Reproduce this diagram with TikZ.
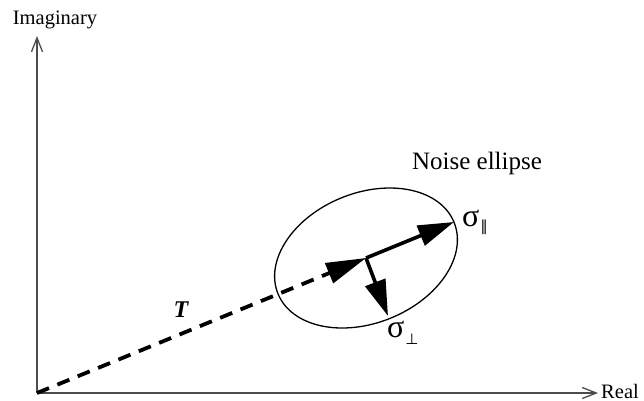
\documentclass[tikz,border=0pt]{standalone}
\usepackage{fontspec}
\setmainfont{Liberation Serif}
\newfontfamily\djv{DejaVu Sans}
\usetikzlibrary{arrows.meta,shapes.geometric}
\newcommand{\subsym}[2]{\raisebox{#1}{\fontsize{15}{15}\selectfont\djv #2}}
\begin{document}
\begin{tikzpicture}[x=1pt,y=-1pt,
  axisline/.style={draw=black!70,line width=1.5pt,-{Straight Barb[length=14pt,width=11pt,line width=1.3pt]}},
  tline/.style={line width=3.8pt,dash pattern=on 13pt off 9pt,-{Triangle[length=40pt,width=21pt]}},
  vec/.style={line width=3.6pt,-{Triangle[length=36pt,width=21pt]}},
  lbl/.style={inner sep=0pt,font=\fontsize{20.5}{25}\selectfont},
  sig/.style={inner sep=0pt,font=\fontsize{32}{34}\selectfont}]
\useasboundingbox (0,0) rectangle (644,400);
\coordinate (O) at (37,393);
\coordinate (Ytip) at (37,36);
\coordinate (Xtip) at (598,393);
\coordinate (C) at (366,258);
\coordinate (Ppar) at (454,222);
\coordinate (Pperp) at (388,316);
\node[ellipse,draw,line width=1.3pt,minimum width=190pt,minimum height=130pt,inner sep=0pt,rotate=22] (ell) at (C) {};
\draw[axisline] (O) -- (Ytip);
\draw[axisline] (O) -- (Xtip);
\draw[tline] (O) -- (C);
\draw[vec] (C) -- (Ppar);
\draw[vec] (C) -- (Pperp);
\node[lbl] (imag) at (55,20) {Imaginary};
\node[lbl,anchor=base east] (real) at (639,398) {Real};
\node[inner sep=0pt,font=\fontsize{25}{28}\selectfont] (noise) at (477,163) {Noise ellipse};
\node[inner sep=0pt,font=\fontsize{24}{26}\selectfont\bfseries\itshape] (T) at (181,310) {T};
\node[sig,anchor=base west] (spar) at (462,226) {σ\kern1pt\subsym{-5pt}{∥}};
\node[sig,anchor=base west] (sperp) at (387,337) {σ\kern1pt\subsym{-7pt}{⊥}};
\end{tikzpicture}
\end{document}
